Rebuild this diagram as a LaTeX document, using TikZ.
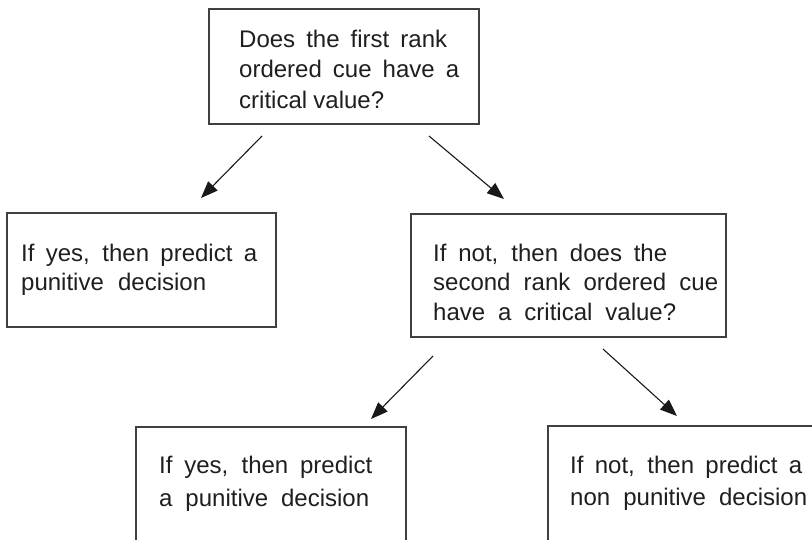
\documentclass[tikz,border=0pt]{standalone}
\usepackage{fontspec}
\setmainfont{Liberation Sans}
\usetikzlibrary{arrows.meta}
\newcommand{\fitline}[2]{\makebox[#1pt][s]{#2}}
\begin{document}
\begin{tikzpicture}[x=1pt,y=-1pt,
  box/.style={draw=black!75, line width=1.4pt, inner sep=0pt, outer sep=0pt, anchor=north west},
  txt/.style={inner sep=0pt, anchor=north west, align=left, text=black!88,
              font=\fontsize{24}{#1}\selectfont},
  arr/.style={draw=black!90, line width=1.1pt, -{Triangle[length=17pt,width=13pt]}}]
\useasboundingbox (0,0) rectangle (812,539);
\clip (0,0) rectangle (812,539);
\fill[white] (0,0) rectangle (812,539);

% boxes
\node[box, minimum width=270pt, minimum height=115pt] (q1) at (209,9) {};
\node[box, minimum width=269pt, minimum height=114pt] (y1) at (7,213) {};
\node[box, minimum width=315pt, minimum height=123pt] (q2) at (411,214) {};
\node[box, minimum width=270pt, minimum height=140pt] (y2) at (136,427) {};
\node[box, minimum width=300pt, minimum height=140pt] (n2) at (548,426) {};

% texts
\node[txt=30.5] (tq1) at (239,29.5) {\fitline{208}{Does the first rank}\\\fitline{220}{ordered cue have a}\\\fitline{145}{critical value?}};
\node[txt=29] (ty1) at (21,243.5) {\fitline{236}{If yes, then predict a}\\\fitline{185}{punitive decision}};
\node[txt=29.5] (tq2) at (433,243.5) {\fitline{234}{If not, then does the}\\\fitline{285}{second rank ordered cue}\\\fitline{243}{have a critical value?}};
\node[txt=33] (ty2) at (159,455.5) {\fitline{213}{If yes, then predict}\\\fitline{210}{a punitive decision}};
\node[txt=32] (tn2) at (570,455.5) {\fitline{232}{If not, then predict a}\\\fitline{237}{non punitive decision}};

% arrow ends
\coordinate (a1s) at (262,136);
\coordinate (a1e) at (201,198);
\coordinate (a2s) at (429,136);
\coordinate (a2e) at (504,199);
\coordinate (a3s) at (433,356);
\coordinate (a3e) at (371,419);
\coordinate (a4s) at (603,349);
\coordinate (a4e) at (677,416);

\draw[arr] (a1s) -- (a1e);
\draw[arr] (a2s) -- (a2e);
\draw[arr] (a3s) -- (a3e);
\draw[arr] (a4s) -- (a4e);
\end{tikzpicture}
\end{document}
